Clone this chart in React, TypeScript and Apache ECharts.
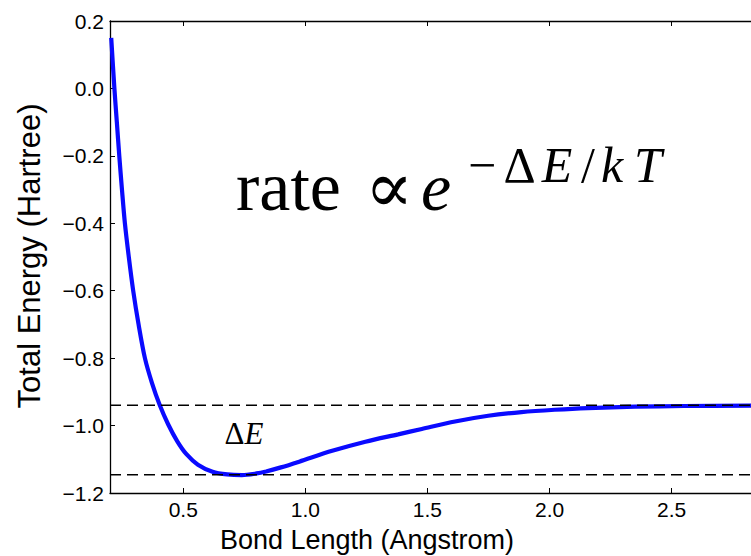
import React, { useEffect, useRef } from "react";
import * as echarts from "echarts";

// Data
const bondLength = [0.205, 0.218, 0.228, 0.238, 0.249, 0.261, 0.277, 0.295, 0.317, 0.343, 0.372, 0.404, 0.438, 0.475, 0.513, 0.56, 0.62, 0.68, 0.74, 0.8, 0.839, 0.9, 0.975, 1.11, 1.246, 1.38, 1.477, 1.613, 1.749, 1.885, 2.021, 2.157, 2.35, 2.55, 2.825];
const totalEnergy = [0.15, 0.0, -0.1, -0.2, -0.3, -0.4, -0.5, -0.6, -0.7, -0.8, -0.874, -0.94, -0.996, -1.046, -1.085, -1.116, -1.137, -1.145, -1.147, -1.142, -1.136, -1.124, -1.107, -1.075, -1.048, -1.026, -1.01, -0.988, -0.971, -0.96, -0.953, -0.948, -0.944, -0.942, -0.941];
const dashLevels = [-0.94, -1.146];
const xRange = [0.2, 2.825];
const yRange = [-1.2, 0.2];
const xTicks = [0.5, 1.0, 1.5, 2.0, 2.5];
const yTicks = [-1.2, -1.0, -0.8, -0.6, -0.4, -0.2, 0.0, 0.2];

const SANS = "Liberation Sans, Arial, Helvetica, sans-serif";
const SERIF = "Liberation Serif, Times New Roman, serif";
const MATH = "DejaVu Serif, Liberation Serif, serif";

const fmt = (v: number) => (v < -1e-9 ? "\u2212" : "") + Math.abs(v).toFixed(1);

export default function App() {
  const ref = useRef<HTMLDivElement>(null);
  useEffect(() => {
    if (!ref.current) return;
    const chart = echarts.init(ref.current, null, { renderer: "svg" });
    const axisLine = { show: true, onZero: false, lineStyle: { color: "#000", width: 1.3 } };
    const tickX = { show: true, inside: true, length: 5, customValues: xTicks, lineStyle: { color: "#000", width: 1 } };
    const curve = bondLength.map((x, i) => [x, totalEnergy[i]]);
    const dashSeries = dashLevels.map((lv) => ({
      type: "line",
      data: [[xRange[0], lv], [xRange[1], lv]],
      showSymbol: false,
      silent: true,
      lineStyle: { color: "#000", width: 1.5, type: [11, 6] },
      z: 5,
    }));
    const sup = (t: string, cx: number, italic = false) => ({
      type: "text",
      x: cx,
      y: 180 - 0.3 * 50,
      style: { text: t, font: `${italic ? "italic " : ""}50px ${SERIF}`, fill: "#000", align: "center", verticalAlign: "middle" },
    });
    chart.setOption({
      animation: false,
      backgroundColor: "#fff",
      grid: { left: 110, top: 21, right: -3, bottom: 63, containLabel: false },
      xAxis: [
        {
          type: "value",
          min: xRange[0],
          max: xRange[1],
          position: "bottom",
          axisLine,
          axisTick: tickX,
          splitLine: { show: false },
          axisLabel: { customValues: xTicks, formatter: fmt, color: "#000", fontFamily: SANS, fontSize: 21, margin: 6 },
        },
        {
          type: "value",
          min: xRange[0],
          max: xRange[1],
          position: "top",
          axisLine,
          axisTick: tickX,
          splitLine: { show: false },
          axisLabel: { show: false },
        },
      ],
      yAxis: [
        {
          type: "value",
          min: yRange[0],
          max: yRange[1],
          position: "left",
          axisLine,
          axisTick: { show: true, inside: true, length: 5, customValues: yTicks, lineStyle: { color: "#000", width: 1 } },
          splitLine: { show: false },
          axisLabel: { customValues: yTicks, formatter: fmt, color: "#000", fontFamily: SANS, fontSize: 21, margin: 6 },
        },
      ],
      series: [
        {
          type: "line",
          data: curve,
          showSymbol: false,
          smooth: 0.3,
          lineStyle: { color: "#0a0aff", width: 4.2 },
          z: 3,
        },
        ...dashSeries,
      ],
      graphic: [
        {
          type: "text",
          x: 367,
          y: 540,
          style: { text: "Bond Length (Angstrom)", font: `27px ${SANS}`, fill: "#000", align: "center", verticalAlign: "middle" },
        },
        {
          type: "text",
          x: 29,
          y: 256,
          rotation: Math.PI / 2,
          style: { text: "Total Energy (Hartree)", font: `31px ${SANS}`, fill: "#000", align: "center", verticalAlign: "middle" },
        },
        {
          type: "text",
          x: 236,
          y: 207 - 0.3 * 70,
          style: { text: "rate", font: `70px ${SERIF}`, fill: "#000", align: "left", verticalAlign: "middle" },
        },
        {
          type: "text",
          x: 389,
          y: 207 - 0.3 * 66,
          style: { text: "\u221D", font: `72px ${MATH}`, fill: "#000", align: "center", verticalAlign: "middle" },
        },
        {
          type: "text",
          x: 436,
          y: 207 - 0.3 * 68,
          style: { text: "e", font: `italic 68px ${SERIF}`, fill: "#000", align: "center", verticalAlign: "middle" },
        },
        sup("\u2212", 482),
        sup("\u0394", 519.5),
        sup("E", 557, true),
        sup("/", 588),
        sup("k", 612, true),
        sup("T", 648, true),
        {
          type: "text",
          x: 244,
          y: 443 - 0.3 * 31,
          style: { text: "\u0394{i|E}", font: `31px ${SERIF}`, fill: "#000", align: "center", verticalAlign: "middle", rich: { i: { font: `italic 31px ${SERIF}`, fill: "#000" } } },
        },
      ],
    });
    return () => chart.dispose();
  }, []);
  return <div ref={ref} style={{ position: "fixed", left: 0, top: 0, width: 751, height: 556 }} />;
}
